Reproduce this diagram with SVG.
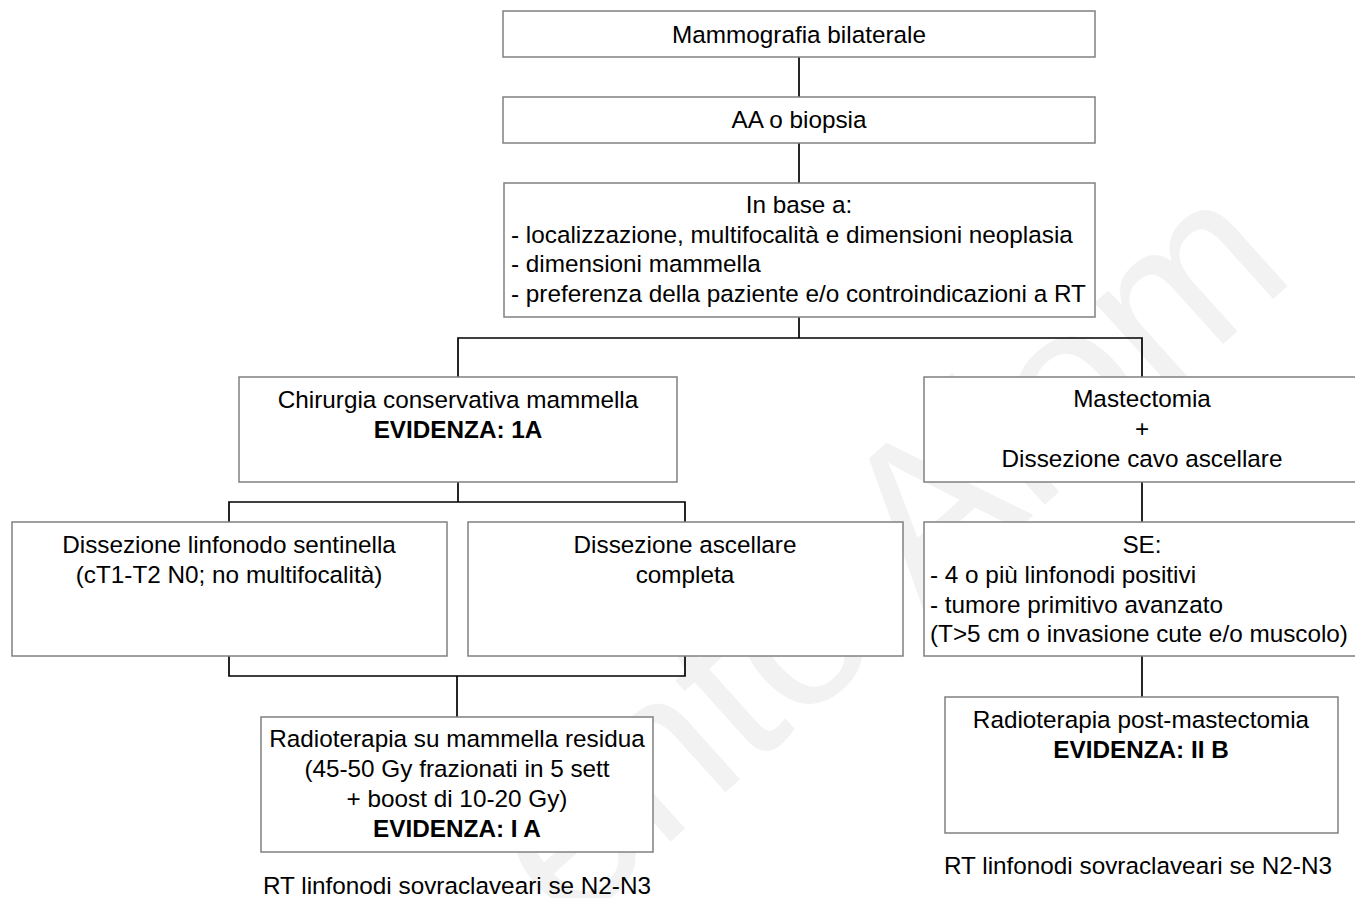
<svg xmlns="http://www.w3.org/2000/svg" width="1355" height="898" viewBox="0 0 1355 898">
  <style>
    .box { fill: #ffffff; stroke: #808080; stroke-width: 1.5; }
    .link { fill: none; stroke: #000000; stroke-width: 1.7; }
    text { font-family: "Liberation Sans", Arial, sans-serif; font-size: 24.3px; fill: #000000; }
    .c { text-anchor: middle; }
    .b { font-weight: bold; }
    .wm { font-size: 221px; fill: #f2f2f2; }
  </style>
  <rect width="1355" height="898" fill="#ffffff"/>

  <!-- faint background mark -->
  <text class="wm" x="0" y="0" transform="translate(568 934) rotate(-42)">ento Aiom</text>

  <!-- connectors -->
  <g id="connectors">
    <path class="link" d="M799 57V97"/>
    <path class="link" d="M799 143V183"/>
    <path class="link" d="M799 317V338M458 377V338H1142V377"/>
    <path class="link" d="M458 482V502M229 522V502H685V522"/>
    <path class="link" d="M1142 482V522"/>
    <path class="link" d="M229 656V676H685V656M457 676V717"/>
    <path class="link" d="M1142 656V697"/>
  </g>

  <g id="n-mammografia">
    <rect class="box" x="503" y="11" width="592" height="46"/>
    <text class="c" x="799" y="43">Mammografia bilaterale</text>
  </g>

  <g id="n-biopsia">
    <rect class="box" x="503" y="97" width="592" height="46"/>
    <text class="c" x="799" y="128">AA o biopsia</text>
  </g>

  <g id="n-criteri">
    <rect class="box" x="504" y="183" width="591" height="134"/>
    <text class="c" x="799" y="213">In base a:</text>
    <text x="511" y="242.5">- localizzazione, multifocalità e dimensioni neoplasia</text>
    <text x="511" y="272">- dimensioni mammella</text>
    <text x="511" y="301.5">- preferenza della paziente e/o controindicazioni a RT</text>
  </g>

  <g id="n-conservativa">
    <rect class="box" x="239" y="377" width="438" height="105"/>
    <text class="c" x="458" y="408">Chirurgia conservativa mammella</text>
    <text class="c b" x="458" y="438">EVIDENZA: 1A</text>
  </g>

  <g id="n-mastectomia">
    <rect class="box" x="924" y="377" width="438" height="105"/>
    <text class="c" x="1142" y="407">Mastectomia</text>
    <text class="c" x="1142" y="437">+</text>
    <text class="c" x="1142" y="467">Dissezione cavo ascellare</text>
  </g>

  <g id="n-sentinella">
    <rect class="box" x="12" y="522" width="435" height="134"/>
    <text class="c" x="229" y="553">Dissezione linfonodo sentinella</text>
    <text class="c" x="229" y="583">(cT1-T2 N0; no multifocalità)</text>
  </g>

  <g id="n-ascellare">
    <rect class="box" x="468" y="522" width="435" height="134"/>
    <text class="c" x="685" y="553">Dissezione ascellare</text>
    <text class="c" x="685" y="583">completa</text>
  </g>

  <g id="n-se">
    <rect class="box" x="924" y="522" width="438" height="134"/>
    <text class="c" x="1142" y="553">SE:</text>
    <text x="930" y="583">- 4 o più linfonodi positivi</text>
    <text x="930" y="613">- tumore primitivo avanzato</text>
    <text x="930" y="642">(T&gt;5 cm o invasione cute e/o muscolo)</text>
  </g>

  <g id="n-rt-residua">
    <rect class="box" x="261" y="717" width="392" height="135"/>
    <text class="c" x="457" y="747">Radioterapia su mammella residua</text>
    <text class="c" x="457" y="777">(45-50 Gy frazionati in 5 sett</text>
    <text class="c" x="457" y="807">+ boost di 10-20 Gy)</text>
    <text class="c b" x="457" y="837">EVIDENZA: I A</text>
  </g>

  <g id="n-rt-post">
    <rect class="box" x="945" y="697" width="393" height="136"/>
    <text class="c" x="1141" y="728">Radioterapia post-mastectomia</text>
    <text class="c b" x="1141" y="758">EVIDENZA: II B</text>
  </g>

  <g id="notes">
    <text class="c" x="457" y="894">RT linfonodi sovraclaveari se N2-N3</text>
    <text class="c" x="1138" y="874">RT linfonodi sovraclaveari se N2-N3</text>
  </g>
</svg>
